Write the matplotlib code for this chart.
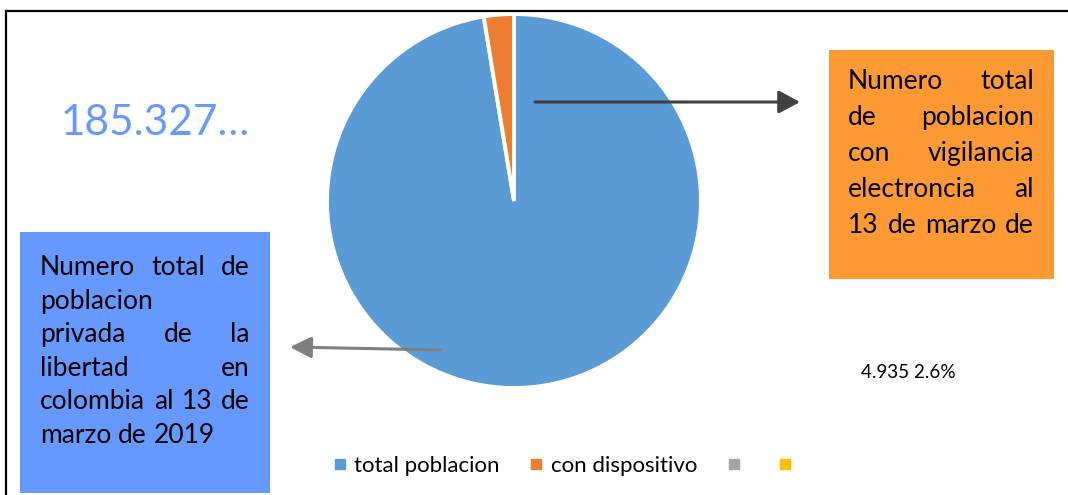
import matplotlib
matplotlib.use("Agg")
import matplotlib.pyplot as plt
from matplotlib.patches import Rectangle, FancyArrowPatch
from matplotlib.lines import Line2D

plt.rcParams['font.family'] = ['Lato', 'DejaVu Sans']

# data
categories = ['total poblacion', 'con dispositivo', '', '']
values = [185327, 4935, 0, 0]
colors = ['#5B9BD5', '#ED7D31', '#A5A5A5', '#FFC000']

blue_lines = ['Numero total de', 'poblacion', 'privada de la', 'libertad en',
              'colombia al 13 de', 'marzo de 2019']
orange_lines = ['Numero total', 'de poblacion', 'con vigilancia',
                'electroncia al', '13 de marzo de']

W, H = 1068, 495
fig = plt.figure(figsize=(W / 100, H / 100), dpi=100)


def fx(x):
    return x / W


def fy(y):
    return 1 - y / H


# frame of the chart area
fig.add_artist(Line2D([fx(6), fx(W)], [fy(11), fy(11)], color='black', lw=1.6))
fig.add_artist(Line2D([fx(6), fx(6)], [fy(11), fy(H)], color='black', lw=1.6))

# pie
cx, cy, r = 514, 201, 187
ax = fig.add_axes([fx(cx - r), fy(cy + r), 2 * r / W, 2 * r / H])
nz = [(v, c) for v, c in zip(values, colors) if v > 0]
ax.pie([v for v, c in nz], colors=[c for v, c in nz], startangle=90,
       counterclock=False, wedgeprops=dict(edgecolor='white', linewidth=2.8))
ax.set_xlim(-1, 1)
ax.set_ylim(-1, 1)
ax.set_aspect('equal')
ax.axis('off')

# data labels
total = sum(values)
big = f"{values[0]:,}".replace(',', '.')
fig.text(fx(61), fy(135), big + '…', color='#6699FF', fontsize=30.5, va='baseline')
fig.text(fx(861), fy(378), f"{values[1]:,}".replace(',', '.') + f" {values[1] / total * 100:.1f}%",
         color='black', fontsize=13.6, va='baseline')

# callout boxes
fig.add_artist(Rectangle((fx(20), fy(493)), fx(250), 261 / H, color='#6699FF', lw=0))
fig.add_artist(Rectangle((fx(829), fy(279)), fx(225), 229 / H, color='#FF9933', lw=0))

renderer = fig.canvas.get_renderer()


def justified(lines, x0, x1, base0, step, fs, last_left=True):
    for i, line in enumerate(lines):
        words = line.split()
        y = fy(base0 + i * step)
        texts = [fig.text(0, y, w, fontsize=fs, va='baseline', color='black') for w in words]
        widths = [t.get_window_extent(renderer).width for t in texts]
        if len(words) == 1 or (last_left and i == len(lines) - 1):
            space = 0.25 * fs * 100 / 72
        else:
            space = (x1 - x0 - sum(widths)) / (len(words) - 1)
        x = x0
        for t, w in zip(texts, widths):
            t.set_x(fx(x))
            x += w + space


justified(blue_lines, 40, 250, 275, 33.6, 19)
justified(orange_lines, 848, 1034, 89, 36, 19, last_left=False)

# arrows
fig.add_artist(FancyArrowPatch(
    (fx(535), fy(102)), (fx(800), fy(102)), transform=fig.transFigure,
    arrowstyle='-|>,head_length=1.3,head_width=0.7', mutation_scale=10,
    color='#404040', lw=2.2, shrinkA=0, shrinkB=0))
fig.add_artist(FancyArrowPatch(
    (fx(441), fy(350)), (fx(290), fy(347)), transform=fig.transFigure,
    arrowstyle='-|>,head_length=1.3,head_width=0.65', mutation_scale=10,
    color='#7F7F7F', lw=2.2, shrinkA=0, shrinkB=0))

# legend
handles = [Line2D([], [], marker='s', ls='', color=c, markersize=6.5) for c in colors]
fig.legend(handles, categories, loc='center', bbox_to_anchor=(fx(566), fy(466)),
           ncol=4, frameon=False, fontsize=16, handlelength=0.6,
           handletextpad=0.35, columnspacing=1.35)

fig.savefig('out.png', dpi=100)
